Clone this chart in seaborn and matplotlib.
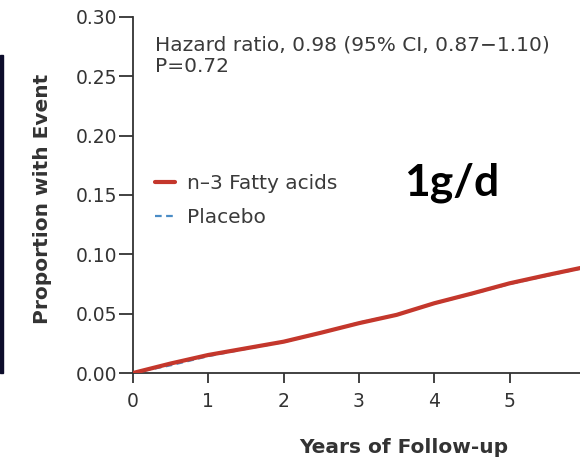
import numpy as np
import pandas as pd
import matplotlib
matplotlib.use("Agg")
import matplotlib.pyplot as plt
import seaborn as sns
from matplotlib.patches import Rectangle

# === data ===
years = [0, 0.5, 1, 1.5, 2, 2.5, 3, 3.5, 4, 4.5, 5, 5.5, 6]
fatty_acids = [0, 0.008, 0.0152, 0.0208, 0.0264, 0.034, 0.042, 0.049, 0.0588, 0.067, 0.0756, 0.0826, 0.0893]
placebo = [0, 0.0065, 0.0142, 0.0203, 0.0260, 0.0338, 0.0425, 0.0492, 0.0585, 0.0665, 0.0750, 0.0820, 0.0888]
y_ticks = [0.00, 0.05, 0.10, 0.15, 0.20, 0.25, 0.30]
x_ticks = [0, 1, 2, 3, 4, 5, 6]
x_labels = ["0", "1", "2", "3", "4", "5", ""]

df = pd.DataFrame({"years": years, "n-3": fatty_acids, "placebo": placebo})

sns.set_style("ticks")
plt.rcParams["font.family"] = ["DejaVu Sans"]

fig = plt.figure(figsize=(5.8, 4.61), dpi=100)
ax = fig.add_axes([133 / 580, 88 / 461, 452 / 580, 356 / 461])

red = "#c4372c"
blue = "#4a8cc6"
sns.lineplot(data=df, x="years", y="placebo", ax=ax, color=blue, lw=1.6,
             linestyle=(0, (3, 2)), zorder=2)
sns.lineplot(data=df, x="years", y="n-3", ax=ax, color=red, lw=3.0, zorder=3)

ax.set_xlim(0, 6)
ax.set_ylim(0, 0.30)
ax.set_xticks(x_ticks)
ax.set_xticklabels(x_labels)
ax.set_yticks(y_ticks)
ax.set_yticklabels([f"{v:.2f}" for v in y_ticks])
ax.tick_params(axis="both", direction="out", width=1.3,
               colors="#333333", labelsize=13.5)
ax.tick_params(axis="y", length=10, pad=1.5)
ax.tick_params(axis="x", length=7.5, pad=6)
for s in ["top", "right"]:
    ax.spines[s].set_visible(False)
for s in ["left", "bottom"]:
    ax.spines[s].set_linewidth(1.3)
    ax.spines[s].set_color("#333333")

ax.set_xlabel("Years of Follow-up", fontsize=14.5, fontweight="bold", color="#333333")
ax.xaxis.set_label_coords(0.60, -0.183)
ax.set_ylabel("Proportion with Event", fontsize=14.5, fontweight="bold", color="#333333")
ax.yaxis.set_label_coords(-0.18, 0.49)

# annotation
ax.text(0.049, 0.921, "Hazard ratio, 0.98 (95% CI, 0.87\u22121.10)",
        transform=ax.transAxes, fontsize=14.5, color="#3a3a3a", va="center", ha="left")
ax.text(0.049, 0.862, "P=0.72",
        transform=ax.transAxes, fontsize=14.5, color="#3a3a3a", va="center", ha="left")

ax.legend(handles=[
    plt.Line2D([], [], color=red, lw=3.0),
    plt.Line2D([], [], color=blue, lw=1.6, linestyle=(0, (3, 2))),
], labels=["n\u20133 Fatty acids", "Placebo"], loc="upper left",
    bbox_to_anchor=(0.0487, 0.558), frameon=False, fontsize=14.5,
    borderpad=0, borderaxespad=0,
    handlelength=1.0, handletextpad=0.6, labelspacing=0.75,
    labelcolor="#3a3a3a")

fig.text(452 / 580, 1 - 183 / 461, "1g/d", fontsize=32, fontweight="bold",
         family=["Lato", "DejaVu Sans"], ha="center", va="center", color="black")

# dark strip from neighbouring panel on the left edge
fig.patches.append(Rectangle((0, 1 - 373 / 461), 3 / 580, 318 / 461,
                             transform=fig.transFigure, color="#0d0d2b"))

fig.savefig("out.png", dpi=100)
